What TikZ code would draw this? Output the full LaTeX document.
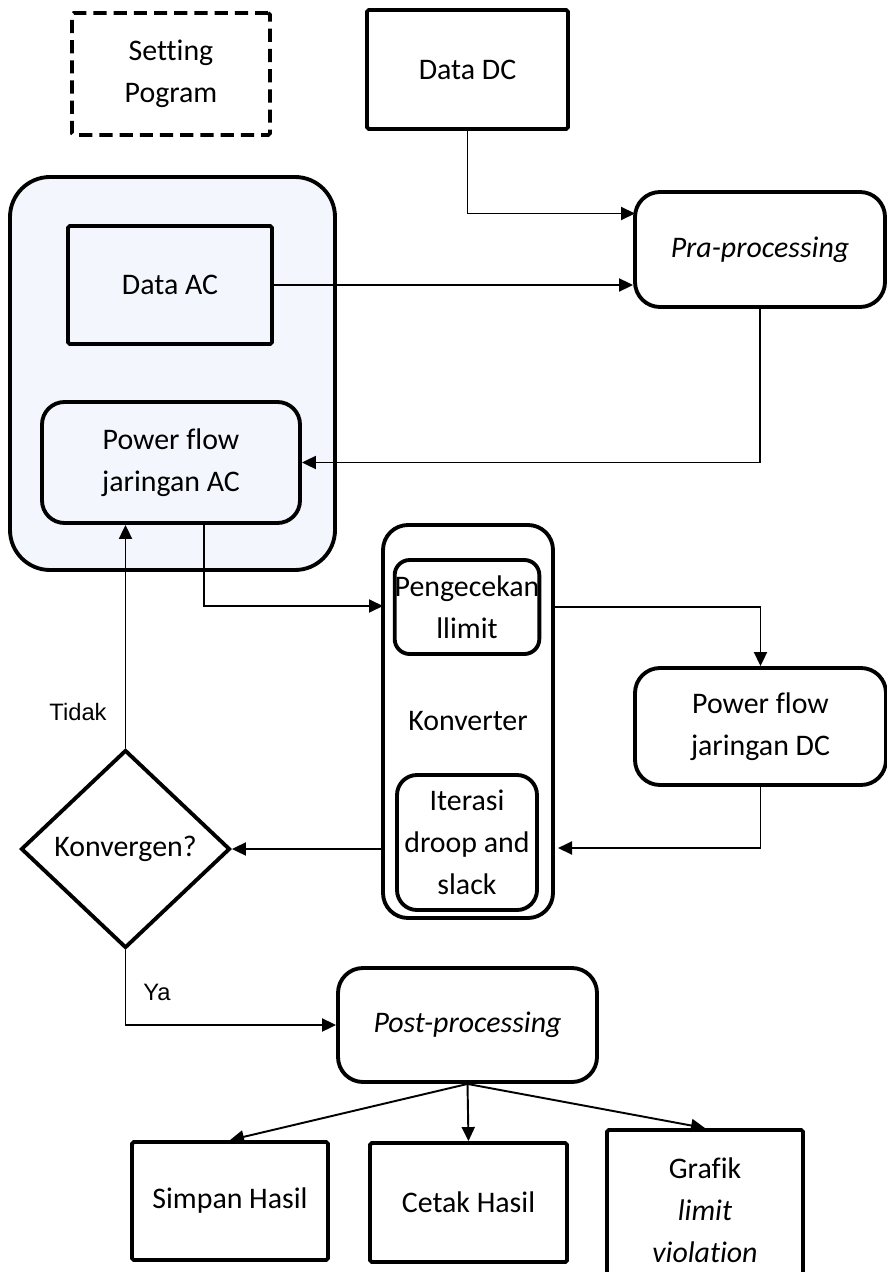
\documentclass[tikz,border=0pt]{standalone}
\usepackage{fontspec}
\setmainfont{Carlito}[Ligatures=CommonOff]
\newfontfamily\arialfont{Liberation Sans}
\usepackage{xcolor}
\usetikzlibrary{shapes.geometric,arrows.meta}
\definecolor{acfill}{RGB}{243,246,252}

\begin{document}
\begin{tikzpicture}[
    font=\fontsize{17}{23.8}\selectfont,
    block/.style={draw, line width=2.2pt, align=center, inner sep=0pt},
    sqbox/.style={block, rounded corners=1pt},
    rbox/.style={block, rounded corners=0.5cm},
    arr/.style={line width=1.1pt, -{Triangle[length=0.28cm,width=0.26cm]}},
    lbl/.style={font=\arialfont\fontsize{13.5}{16}\selectfont}
]
    \useasboundingbox (0,0) rectangle (17.72,-25.44);
    % top row
    \node[sqbox, dash pattern=on 7.5pt off 4pt, minimum width=3.96cm, minimum height=2.44cm] (setting) at (3.42,-1.48) {Setting\\Pogram};
    \node[sqbox, minimum width=4.02cm, minimum height=2.38cm] (datadc) at (9.35,-1.39) {Data DC};
    \node[rbox, minimum width=5.0cm, minimum height=2.3cm] (pra) at (15.2,-4.99) {\itshape Pra-processing};
    % AC group
    \node[block, fill=acfill, rounded corners=0.8cm, minimum width=6.5cm, minimum height=7.86cm] (acgroup) at (3.45,-7.47) {};
    \node[sqbox, minimum width=4.08cm, minimum height=2.36cm] (dataac) at (3.4,-5.7) {Data AC};
    \node[rbox, rounded corners=0.45cm, minimum width=5.16cm, minimum height=2.42cm] (pfac) at (3.42,-9.25) {Power flow\\jaringan AC};
    % converter
    \node[rbox, minimum width=3.4cm, minimum height=7.86cm] (konv) at (9.36,-14.43) {Konverter};
    \node[rbox, rounded corners=0.3cm, minimum width=2.8cm, minimum height=1.88cm] (cek) at (9.34,-12.14) {Pengecekan\\llimit};
    \node[rbox, rounded corners=0.4cm, minimum width=2.8cm, minimum height=2.7cm] (iter) at (9.34,-16.85) {Iterasi\\droop and\\slack};
    \node[rbox, minimum width=5.02cm, minimum height=2.34cm] (pfdc) at (15.21,-14.53) {Power flow\\jaringan DC};
    \node[block, diamond, minimum width=4.18cm, minimum height=3.96cm] (konvergen) at (2.51,-16.98) {Konvergen?};
    % results
    \node[rbox, minimum width=5.18cm, minimum height=2.28cm] (post) at (9.35,-20.5) {\itshape Post-processing};
    \node[sqbox, minimum width=3.92cm, minimum height=2.36cm] (simpan) at (4.6,-24.02) {Simpan Hasil};
    \node[sqbox, minimum width=3.94cm, minimum height=2.38cm] (cetak) at (9.37,-24.05) {Cetak Hasil};
    \node[sqbox, minimum width=3.92cm, minimum height=3.2cm] (grafik) at (14.1,-24.2) {Grafik\\\itshape limit\\\itshape violation};

    \node[lbl] (tidak) at (1.56,-14.24) {Tidak};
    \node[lbl] (ya) at (3.14,-19.84) {Ya};

    \coordinate (praIn) at (12.7,-4.27);
    \coordinate (acOut) at (4.08,-10.46);
    \coordinate (konvIn) at (7.66,-12.12);
    \coordinate (konvOut) at (11.06,-12.14);
    \coordinate (konvRet) at (11.16,-16.96);

    \draw[arr] (datadc.south) |- (praIn);
    \draw[arr] (dataac.east) -- (dataac.east -| pra.west);
    \draw[arr] (pra.south) |- (pfac.east);
    \draw[arr] (acOut) |- (konvIn);
    \draw[arr] (konvOut) -| (pfdc.north);
    \draw[arr] (pfdc.south) |- (konvRet);
    \draw[arr] (konv.west |- konvergen.east) -- (konvergen.east);
    \draw[arr] (konvergen.north) -- (konvergen.north |- pfac.south);
    \draw[arr] (konvergen.south) |- (post.west);
    \draw[arr] (post.south) -- (simpan.north);
    \draw[arr] (post.south) -- (cetak.north);
    \draw[arr] (post.south) -- (grafik.north);
\end{tikzpicture}
\end{document}
